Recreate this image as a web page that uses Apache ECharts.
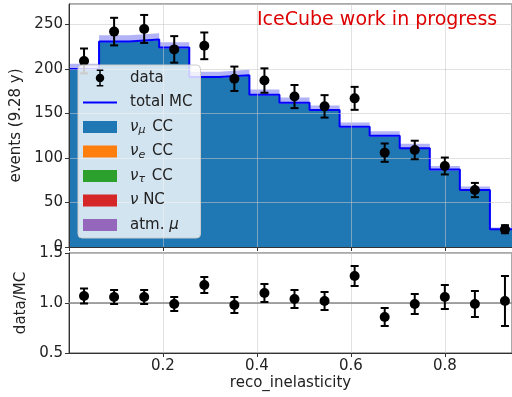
<!DOCTYPE html>
<html>
<head>
<meta charset="utf-8">
<script src="https://cdn.jsdelivr.net/npm/echarts@6/dist/echarts.min.js"></script>
<style>
  html, body { margin: 0; padding: 0; background: #fff; }
  #chart { width: 512px; height: 397px; }
</style>
</head>
<body>
<div id="chart"></div>
<script>
// bin edges of reco_inelasticity
var binEdges = [0, 0.064, 0.128, 0.192, 0.256, 0.32, 0.384, 0.448, 0.512, 0.576, 0.64, 0.704, 0.768, 0.832, 0.896, 0.96];
// MC expectation per bin (events in 9.28 y)
var totalMC = [200, 231, 233, 224, 191, 193, 171, 162, 154, 135, 125, 111, 87, 64, 20];
var numuCC  = [199, 230, 232, 223, 190, 192, 170, 161, 153, 134, 124, 110, 86, 63, 19];
var mcBand  = [6, 7, 7, 6, 6, 6, 6, 6, 5, 5, 5, 5, 4, 4, 2];
// data
var dataVal = [209, 242, 245, 222, 226, 189, 187, 169, 158, 167, 106, 109, 91, 64, 20];
var dataErr = [14, 15.5, 15.7, 14.9, 15, 13.7, 13.7, 13, 12.6, 12.9, 10.3, 10.4, 9.5, 8, 4.5];
// data / MC
var ratioVal = [1.07, 1.06, 1.06, 0.99, 1.18, 0.98, 1.10, 1.04, 1.02, 1.27, 0.86, 0.99, 1.06, 0.99, 1.02];
var ratioErr = [0.075, 0.07, 0.07, 0.07, 0.08, 0.08, 0.09, 0.09, 0.09, 0.10, 0.09, 0.10, 0.12, 0.13, 0.25];

var yTicksTop = { min: 0, max: 273, interval: 50 };
var yTicksRatio = { min: 0.5, max: 1.5, interval: 0.5 };
var xRange = { min: 0, max: 0.943, interval: 0.2 };

var FONT = 'DejaVu Sans';
var chart = echarts.init(document.getElementById('chart'));

// bin centers
var centers = [];
for (var i = 0; i < binEdges.length - 1; i++) {
  centers.push((binEdges[i] + binEdges[i + 1]) / 2);
}

// histogram as step points (last edge repeats last value)
function histPoints(vals, add) {
  var pts = [];
  for (var i = 0; i < vals.length; i++) {
    pts.push([binEdges[i], vals[i] + (add ? add[i] : 0)]);
  }
  pts.push([binEdges[vals.length], vals[vals.length - 1] + (add ? add[vals.length - 1] : 0)]);
  return pts;
}

function errPoints(vals, errs) {
  return vals.map(function (v, i) { return [centers[i], v - errs[i], v + errs[i]]; });
}

function errorBarItem(params, api) {
  var x = api.value(0);
  var p1 = api.coord([x, api.value(1)]);
  var p2 = api.coord([x, api.value(2)]);
  var cap = 4;
  var st = { stroke: '#000', lineWidth: 2 };
  return {
    type: 'group',
    children: [
      { type: 'line', shape: { x1: p1[0], y1: p1[1], x2: p2[0], y2: p2[1] }, style: st },
      { type: 'line', shape: { x1: p1[0] - cap, y1: p1[1], x2: p1[0] + cap, y2: p1[1] }, style: st },
      { type: 'line', shape: { x1: p2[0] - cap, y1: p2[1], x2: p2[0] + cap, y2: p2[1] }, style: st }
    ]
  };
}

var gridLine = { show: true, lineStyle: { color: 'rgba(200,200,200,0.55)', width: 1 } };
var axisLine = { show: true, lineStyle: { color: '#333', width: 1 } };
var axisTick = { show: true, inside: false, length: 4, lineStyle: { color: '#333' } };

var legendNames = {
  'data': 'data',
  'total MC': 'total MC',
  'numu': '{i|ν}{s|μ} CC',
  'nue': '{i|ν}{s|e} CC',
  'nutau': '{i|ν}{s|τ} CC',
  'nunc': '{i|ν} NC',
  'atmmu': 'atm. {i|μ}'
};

var option = {
  animation: false,
  title: {
    text: 'IceCube work in progress',
    left: 257, top: 11, padding: 0,
    textStyle: { color: '#dd0000', fontSize: 19, fontWeight: 'normal', fontFamily: FONT }
  },
  legend: {
    orient: 'vertical',
    left: 78, top: 65,
    padding: [4, 8, 4, 5],
    itemWidth: 34, itemHeight: 17, itemGap: 6.5,
    backgroundColor: 'rgba(255,255,255,0.8)',
    borderColor: '#ccc', borderWidth: 1, borderRadius: 4,
    z: 10,
    textStyle: {
      fontFamily: FONT, fontSize: 15, color: '#222', lineHeight: 18,
      rich: {
        sp: { width: 8 },
        i: { fontFamily: FONT, fontSize: 15, fontStyle: 'italic', color: '#222' },
        s: { fontFamily: FONT, fontSize: 11, fontStyle: 'italic', color: '#222', verticalAlign: 'bottom', padding: [6, 2, 0, 0] }
      }
    },
    formatter: function (name) { return '{sp|}' + legendNames[name]; },
    data: [
      { name: 'data', icon: 'path://M4.2,0H5.8V18H4.2Z M1.5,0H8.5V1.5H1.5Z M1.5,16.5H8.5V18H1.5Z M0.5,9A4.5,4.5 0 1 1 9.5,9A4.5,4.5 0 1 1 0.5,9Z' },
      { name: 'total MC', icon: 'path://M0,0H34V2H0Z' },
      { name: 'numu', icon: 'path://M0,0H34V12H0Z' },
      { name: 'nue', icon: 'path://M0,0H34V12H0Z' },
      { name: 'nutau', icon: 'path://M0,0H34V12H0Z' },
      { name: 'nunc', icon: 'path://M0,0H34V12H0Z' },
      { name: 'atmmu', icon: 'path://M0,0H34V12H0Z' }
    ]
  },
  grid: [
    { left: 69, top: 4, right: -2, height: 243, show: true, borderColor: '#555', borderWidth: 1 },
    { left: 69, top: 253, right: -2, height: 100, show: true, borderColor: '#555', borderWidth: 1 }
  ],
  xAxis: [
    {
      type: 'value', gridIndex: 0, min: xRange.min, max: xRange.max, interval: xRange.interval, z: 3,
      axisLine: axisLine, axisTick: axisTick, splitLine: gridLine,
      axisLabel: { show: false }
    },
    {
      type: 'value', gridIndex: 1, min: xRange.min, max: xRange.max, interval: xRange.interval, z: 3,
      axisLine: axisLine, axisTick: axisTick, splitLine: gridLine,
      axisLabel: { fontFamily: FONT, fontSize: 15, color: '#222', margin: 6, showMinLabel: false, showMaxLabel: false,
        formatter: function (v) { return v.toFixed(1); } },
      name: 'reco_inelasticity', nameLocation: 'middle', nameGap: 23,
      nameTextStyle: { fontFamily: FONT, fontSize: 15, color: '#222' }
    }
  ],
  yAxis: [
    {
      type: 'value', gridIndex: 0, min: yTicksTop.min, max: yTicksTop.max, interval: yTicksTop.interval, z: 3,
      axisLine: axisLine, axisTick: axisTick, splitLine: gridLine,
      axisLabel: { fontFamily: FONT, fontSize: 15, color: '#222', margin: 6, showMaxLabel: false },
      name: 'events (9.28 y)', nameLocation: 'middle', nameGap: 40,
      nameTextStyle: { fontFamily: FONT, fontSize: 15, color: '#222' }
    },
    {
      type: 'value', gridIndex: 1, min: yTicksRatio.min, max: yTicksRatio.max, interval: yTicksRatio.interval, z: 3,
      axisLine: axisLine, axisTick: axisTick, splitLine: gridLine,
      axisLabel: { fontFamily: FONT, fontSize: 15, color: '#222', margin: 6,
        formatter: function (v) { return v.toFixed(1); } },
      name: 'data/MC', nameLocation: 'middle', nameGap: 35,
      nameTextStyle: { fontFamily: FONT, fontSize: 15, color: '#222' }
    }
  ],
  series: [
    {
      name: 'band', type: 'line', xAxisIndex: 0, yAxisIndex: 0, step: 'end', z: 1,
      data: histPoints(totalMC, mcBand), symbol: 'none',
      lineStyle: { width: 0 }, areaStyle: { color: '#b2b3f6', opacity: 1 }
    },
    {
      name: 'numu', type: 'line', xAxisIndex: 0, yAxisIndex: 0, step: 'end', z: 2,
      data: histPoints(numuCC), symbol: 'none', color: '#1f77b4',
      lineStyle: { width: 0 }, areaStyle: { color: '#1f77b4', opacity: 1 }
    },
    {
      name: 'total MC', type: 'line', xAxisIndex: 0, yAxisIndex: 0, step: 'end', z: 2,
      data: histPoints(totalMC), symbol: 'none', color: '#0000ff',
      lineStyle: { width: 2, color: '#0000ff' }
    },
    { name: 'nue', type: 'line', data: [], color: '#ff7f0e', xAxisIndex: 0, yAxisIndex: 0 },
    { name: 'nutau', type: 'line', data: [], color: '#2ca02c', xAxisIndex: 0, yAxisIndex: 0 },
    { name: 'nunc', type: 'line', data: [], color: '#d62728', xAxisIndex: 0, yAxisIndex: 0 },
    { name: 'atmmu', type: 'line', data: [], color: '#9467bd', xAxisIndex: 0, yAxisIndex: 0 },
    {
      name: 'data err', type: 'custom', xAxisIndex: 0, yAxisIndex: 0, z: 5,
      renderItem: errorBarItem, data: errPoints(dataVal, dataErr), encode: { x: 0, y: [1, 2] }
    },
    {
      name: 'data', type: 'scatter', xAxisIndex: 0, yAxisIndex: 0, z: 6, color: '#000',
      itemStyle: { color: '#000', opacity: 1 },
      symbolSize: 10, data: dataVal.map(function (v, i) { return [centers[i], v]; })
    },
    {
      name: 'ratio err', type: 'custom', xAxisIndex: 1, yAxisIndex: 1, z: 5,
      renderItem: errorBarItem, data: errPoints(ratioVal, ratioErr), encode: { x: 0, y: [1, 2] }
    },
    {
      name: 'ratio', type: 'scatter', xAxisIndex: 1, yAxisIndex: 1, z: 6, color: '#000',
      itemStyle: { color: '#000', opacity: 1 },
      symbolSize: 10, data: ratioVal.map(function (v, i) { return [centers[i], v]; }),
      markLine: {
        silent: true, symbol: 'none', label: { show: false }, z: 4,
        lineStyle: { color: '#888', width: 1.5, type: 'solid' },
        data: [{ yAxis: 1 }]
      }
    }
  ]
};
chart.setOption(option);
</script>
</body>
</html>
